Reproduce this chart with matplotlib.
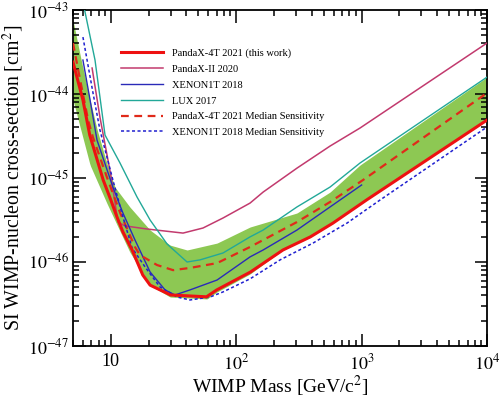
import matplotlib
matplotlib.use("Agg")
import matplotlib.pyplot as plt
import numpy as np
from matplotlib.ticker import FixedLocator, LogLocator, NullFormatter, FixedFormatter

plt.rcParams['font.family'] = ['Liberation Serif', 'DejaVu Serif']
plt.rcParams['mathtext.fontset'] = 'stix'

# PandaX-4T 2021 (this work)
p4_mass = [5, 6, 6.8, 8.7, 10, 11.2, 12.5, 14.8, 18, 20.6, 30, 58, 70, 130, 236, 390, 590, 1100, 10000]
p4_sig = [2.4e-44, 8.5e-45, 3.25e-45, 9.5e-46, 5.5e-46, 3.45e-46, 2.28e-46, 1.39e-46, 7.0e-47, 5.3e-47,
          4.05e-47, 3.85e-47, 4.65e-47, 7.6e-47, 1.39e-46, 1.99e-46, 2.9e-46, 5.5e-46, 4.9e-45]

# PandaX-4T 2021 median sensitivity
p4med_mass = [5, 5.7, 6.6, 7.2, 9.3, 11.9, 15.6, 17.1, 23.4, 31.4, 42.8, 70.4, 129, 305, 560, 1026, 10000]
p4med_sig = [4.05e-44, 1.47e-44, 4.9e-45, 3.08e-45, 1.03e-45, 3.83e-46, 1.51e-46, 1.21e-46, 9.2e-47,
             8.0e-47, 8.5e-47, 9.7e-47, 1.51e-46, 2.99e-46, 5.18e-46, 9.46e-46, 1.03e-44]

# sensitivity band (upper / lower edge)
band_up_mass = [5, 5.7, 6.84, 7.8, 9.3, 10.8, 14.2, 20.6, 29.7, 40.6, 70.4, 129, 305, 560, 972, 10000]
band_up_sig = [7.6e-44, 2.91e-44, 8.5e-45, 3.73e-45, 1.51e-45, 7.8e-46, 4.52e-46, 2.4e-46, 1.59e-46,
               1.39e-46, 1.68e-46, 2.61e-46, 3.83e-46, 6.8e-46, 1.43e-45, 1.59e-44]
band_lo_mass = [5, 6.84, 9.3, 14.2, 20.6, 29.7, 58.6, 70.4, 129, 236, 390, 590, 1100, 10000]
band_lo_sig = [8.5e-45, 1.43e-45, 5.03e-46, 1.31e-46, 5.3e-47, 3.83e-47, 3.63e-47, 4.4e-47, 7.2e-47,
               1.39e-46, 1.99e-46, 2.9e-46, 5.5e-46, 4.9e-45]

# PandaX-II 2020
p2_mass = [7.1, 8.2, 10, 11.4, 13, 19.5, 37.7, 54.4, 78.5, 129, 164, 305, 560, 972, 10000]
p2_sig = [2.04e-44, 5.3e-45, 1.09e-45, 2.99e-46, 2.69e-46, 2.47e-46, 2.21e-46, 2.54e-46, 3.34e-46,
          5.03e-46, 6.8e-46, 1.31e-45, 2.4e-45, 3.94e-45, 4.05e-44]

# XENON1T 2018
x1_mass = [6.0, 6.84, 7.77, 10.4, 12.5, 15.6, 20.6, 27.1, 32.5, 42.8, 70.4, 129, 164, 305, 560, 1000]
x1_sig = [2.54e-44, 8.5e-45, 2.83e-45, 7.8e-46, 3.83e-46, 1.83e-46, 7.6e-47, 4.65e-47, 4.05e-47,
          4.65e-47, 6.1e-47, 1.15e-46, 1.39e-46, 2.4e-46, 4.52e-46, 8.26e-46]

# XENON1T 2018 median sensitivity
x1med_mass = [6.0, 7.22, 8.2, 10.4, 12.5, 14.8, 18.8, 24.7, 33.8, 42.8, 61.9, 78.5, 129, 224, 410, 766, 1403, 10000]
x1med_sig = [4.77e-44, 1.03e-44, 3.73e-45, 9.46e-46, 3.44e-46, 1.47e-46, 8.7e-47, 5.04e-47, 3.83e-47,
             3.53e-47, 3.83e-47, 4.4e-47, 6.3e-47, 1.06e-46, 1.68e-46, 2.91e-46, 5.47e-46, 4.05e-45]

# LUX 2017
lux_mass = [6.0, 7.49, 9.0, 11.85, 16.2, 20.6, 28.1, 40.6, 51.5, 78.5, 129, 164, 305, 560, 972, 10000]
lux_sig = [1.25e-43, 2.54e-44, 3.25e-45, 1.51e-45, 5.94e-46, 3.16e-46, 1.64e-46, 1.0e-46, 1.06e-46,
           1.28e-46, 1.99e-46, 2.4e-46, 4.52e-46, 7.8e-46, 1.51e-45, 1.59e-44]

x_ticks = [10, 100, 1000, 10000]
x_ticklabels = ['10', '$10^{2}$', '$10^{3}$', '$10^{4}$']
y_ticks = [1e-47, 1e-46, 1e-45, 1e-44, 1e-43]
y_ticklabels = ['$10^{-47}$', '$10^{-46}$', '$10^{-45}$', '$10^{-44}$', '$10^{-43}$']

fig = plt.figure(figsize=(5.0, 3.98), dpi=100)
ax = fig.add_axes([0.146, 0.1307, 0.828, 0.844])
ax.set_xscale('log')
ax.set_yscale('log')

# band: interpolate both edges onto a common grid in log space
grid = np.logspace(np.log10(5), 4, 400)
up = 10 ** np.interp(np.log10(grid), np.log10(band_up_mass), np.log10(band_up_sig))
lo = 10 ** np.interp(np.log10(grid), np.log10(band_lo_mass), np.log10(band_lo_sig))
ax.fill_between(grid, lo, up, color='#8dc853', lw=0, zorder=1)

ax.plot(p4_mass, p4_sig, color='#ee1111', lw=2.2, label='PandaX-4T 2021 (this work)', zorder=6)
ax.plot(p2_mass, p2_sig, color='#c23a6e', lw=1.1, label='PandaX-II 2020', zorder=4)
ax.plot(x1_mass, x1_sig, color='#2a2ab8', lw=1.0, label='XENON1T 2018', zorder=4)
ax.plot(lux_mass, lux_sig, color='#22a898', lw=1.0, label='LUX 2017', zorder=4)
ax.plot(p4med_mass, p4med_sig, color='#e02a1a', lw=1.6, ls=(0, (3.5, 2.5)),
        label='PandaX-4T 2021 Median Sensitivity', zorder=5)
ax.plot(x1med_mass, x1med_sig, color='#2020d0', lw=1.1, ls=(0, (2, 1.6)),
        label='XENON1T 2018 Median Sensitivity', zorder=5)

ax.set_xlim(5, 1e4)
ax.set_ylim(1e-47, 1e-43)

ax.xaxis.set_major_locator(FixedLocator(x_ticks))
ax.xaxis.set_major_formatter(FixedFormatter(x_ticklabels))
ax.xaxis.set_minor_locator(LogLocator(base=10, subs=np.arange(2, 10), numticks=20))
ax.xaxis.set_minor_formatter(NullFormatter())
ax.yaxis.set_major_locator(FixedLocator(y_ticks))
ax.yaxis.set_major_formatter(FixedFormatter(y_ticklabels))
ax.yaxis.set_minor_locator(LogLocator(base=10, subs=np.arange(2, 10), numticks=20))
ax.yaxis.set_minor_formatter(NullFormatter())

ax.tick_params(which='both', direction='in', top=True, right=True, width=1.1, labelsize=13)
ax.tick_params(axis='x', pad=5)
ax.tick_params(axis='y', pad=3)
ax.tick_params(which='major', length=9)
ax.tick_params(which='minor', length=4.5)
for s in ax.spines.values():
    s.set_linewidth(1.3)

ax.set_xlabel('WIMP Mass [GeV/c$^2$]', fontsize=14)
ax.xaxis.set_label_coords(0.5, -0.084)
ax.set_ylabel('SI WIMP-nucleon cross-section [cm$^2$]', fontsize=14.3)
ax.yaxis.set_label_coords(-0.113, 0.5)

ax.legend(loc='upper left', bbox_to_anchor=(0.116, 0.885), frameon=False, fontsize=7.5,
          handlelength=4.0, handletextpad=0.9, labelspacing=0.62, borderpad=0, borderaxespad=0)

fig.savefig('out.png', dpi=100)
